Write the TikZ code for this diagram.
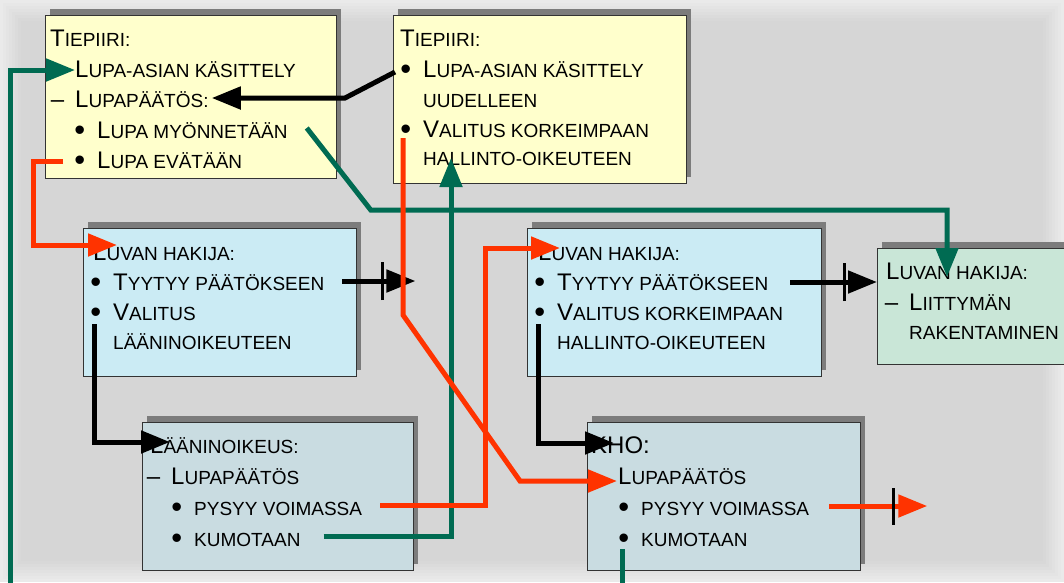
\documentclass[tikz,border=0pt]{standalone}
\usepackage{fontspec}
\setmainfont{Liberation Sans}
\usetikzlibrary{arrows.meta,shadows}
\definecolor{tausta}{HTML}{D6D6D6}
\definecolor{reuna}{HTML}{EAEAEA}
\definecolor{keltainen}{HTML}{FFFFCC}
\definecolor{sininen}{HTML}{CBEBF4}
\definecolor{minttu}{HTML}{C9E6D7}
\definecolor{harmaa}{HTML}{C9DCE1}
\definecolor{varjo}{HTML}{7C7C7C}
\definecolor{vihrea}{HTML}{006B52}
\definecolor{punainen}{HTML}{FF3300}
\newcommand\pien[1]{{\fontsize{19}{22}\selectfont #1}}
\newcommand\pallo{\llap{\raisebox{-2pt}{\fontsize{31}{31}\selectfont\textbullet}\hspace{12pt}}}
\newcommand\viiva{\llap{\textendash\hspace{11pt}}}
\begin{document}
\begin{tikzpicture}[x=1pt,y=-1pt]
\tikzset{laatikko/.style={draw=black!80,line width=0.8pt,
                          anchor=north west,inner sep=0pt,
                          general shadow={fill=varjo,shadow xshift=5pt,shadow yshift=6pt}},
         rivi/.style={anchor=base west,inner sep=0pt,
                      font=\fontsize{24}{28}\selectfont},
         yhteys/.style={line width=5pt,-{Triangle[length=29pt,width=22pt]}},
         katko/.style={pos=#1,inner sep=0pt,text=black}
}
\useasboundingbox (0,0) rectangle (1064,582);
\fill[tausta] (0,0) rectangle (1064,582);
\foreach \i in {0,...,6}
  {\pgfmathtruncatemacro\p{100-15*\i}
   \draw[line width=3pt,reuna!\p!tausta] ({1.5+3*\i},{1.5+3*\i}) rectangle ({1062.5-3*\i},{580.5-3*\i});}

\node[laatikko,fill=keltainen,minimum width=291pt,minimum height=163pt] (A) at (45,15) {};
\node[laatikko,fill=keltainen,minimum width=293pt,minimum height=168pt] (B) at (393,15) {};
\node[laatikko,fill=sininen,minimum width=273pt,minimum height=148pt] (C) at (83,228) {};
\node[laatikko,fill=sininen,minimum width=294pt,minimum height=148pt] (D) at (527,228) {};
\node[laatikko,fill=minttu,minimum width=220pt,minimum height=116pt] (E) at (877,248) {};
\node[laatikko,fill=harmaa,minimum width=271pt,minimum height=148pt] (F) at (142,422) {};
\node[laatikko,fill=harmaa,minimum width=273pt,minimum height=148pt] (G) at (587,422) {};

\node[rivi] (a0) at (50,46)  {T\pien{IEPIIRI:}};
\node[rivi] (a1) at (75,77)  {L\pien{UPA-ASIAN KÄSITTELY}};
\node[rivi] (a2) at (75,107) {\viiva L\pien{UPAPÄÄTÖS:}};
\node[rivi] (a3) at (97,138) {\pallo L\pien{UPA MYÖNNETÄÄN}};
\node[rivi] (a4) at (97,168) {\pallo L\pien{UPA EVÄTÄÄN}};

\node[rivi] (b0) at (400,46)  {T\pien{IEPIIRI:}};
\node[rivi] (b1) at (423,77)  {\pallo L\pien{UPA-ASIAN KÄSITTELY}};
\node[rivi] (b2) at (423,107) {\pien{UUDELLEEN}};
\node[rivi] (b3) at (423,137) {\pallo V\pien{ALITUS KORKEIMPAAN}};
\node[rivi] (b4) at (423,165) {\pien{HALLINTO-OIKEUTEEN}};

\node[rivi] (c0) at (93,260)  {L\pien{UVAN HAKIJA:}};
\node[rivi] (c1) at (113,290) {\pallo T\pien{YYTYY PÄÄTÖKSEEN}};
\node[rivi] (c2) at (113,320) {\pallo V\pien{ALITUS}};
\node[rivi] (c3) at (113,349) {\pien{LÄÄNINOIKEUTEEN}};

\node[rivi] (d0) at (538,260) {L\pien{UVAN HAKIJA:}};
\node[rivi] (d1) at (557,290) {\pallo T\pien{YYTYY PÄÄTÖKSEEN}};
\node[rivi] (d2) at (557,320) {\pallo V\pien{ALITUS KORKEIMPAAN}};
\node[rivi] (d3) at (557,349) {\pien{HALLINTO-OIKEUTEEN}};

\node[rivi] (e0) at (886,279) {L\pien{UVAN HAKIJA:}};
\node[rivi] (e1) at (909,310) {\viiva L\pien{IITTYMÄN}};
\node[rivi] (e2) at (909,339) {\pien{RAKENTAMINEN}};

\node[rivi] (f0) at (150,453) {L\pien{ÄÄNINOIKEUS:}};
\node[rivi] (f1) at (171,484) {\viiva L\pien{UPAPÄÄTÖS}};
\node[rivi] (f2) at (194,515) {\pallo\pien{PYSYY VOIMASSA}};
\node[rivi] (f3) at (194,546) {\pallo\pien{KUMOTAAN}};

\node[rivi] (g0) at (591,453) {KHO:};
\node[rivi] (g1) at (618,484) {L\pien{UPAPÄÄTÖS}};
\node[rivi] (g2) at (641,515) {\pallo\pien{PYSYY VOIMASSA}};
\node[rivi] (g3) at (641,546) {\pallo\pien{KUMOTAAN}};

\coordinate (vasen) at (10,590);
\draw[yhteys,vihrea] (vasen) |- ([yshift=7pt]a1.base west);
\coordinate (a3a) at ([shift={(19pt,10pt)}]a3.base east);
\draw[yhteys,vihrea] (a3a) -- ++(64,82) -| ([shift={(61pt,2pt)}]e0.base west);
\coordinate (f3a) at ([shift={(23pt,10pt)}]f3.base east);
\draw[yhteys,vihrea] (f3a) -| ([shift={(28pt,7pt)}]b4.base west);
\coordinate (g3a) at ([shift={(-19pt,-3pt)}]g3.base west);
\draw[yhteys,-,vihrea] (g3a) -- ++(0,40);

\coordinate (b1a) at ([shift={(-28pt,5pt)}]b1.base west);
\draw[yhteys] (b1a) -- ++(-50,26) -- ([shift={(3pt,9pt)}]a2.base east);
\coordinate (c1a) at ([shift={(18pt,9pt)}]c1.base east);
\draw[yhteys] (c1a) -- ++(73,0) node[katko=.55]{\rule{3pt}{38pt}};
\coordinate (d1a) at ([shift={(22pt,8pt)}]d1.base east);
\draw[yhteys] (d1a) -- (d1a -| E.west) node[katko=.63]{\rule{3pt}{38pt}};
\coordinate (c2a) at ([shift={(-19pt,-4pt)}]c2.base west);
\draw[yhteys] (c2a) |- ([shift={(20pt,11pt)}]f0.base west);
\coordinate (d2a) at ([shift={(-19pt,-4pt)}]d2.base west);
\draw[yhteys] (d2a) |- ([shift={(23pt,10pt)}]g0.base west);

\coordinate (a4a) at ([shift={(-34pt,7pt)}]a4.base west);
\draw[yhteys,punainen] (a4a) -- ++(-30,0) |- ([shift={(24pt,15pt)}]c0.base west);
\coordinate (b3a) at ([shift={(-20pt,-1pt)}]b3.base west);
\draw[yhteys,punainen] (b3a) -- ++(0,177) -- ([shift={(-98pt,3pt)}]g1.base west) -- ([shift={(-1pt,3pt)}]g1.base west);
\coordinate (f2a) at ([shift={(18pt,10pt)}]f2.base east);
\draw[yhteys,punainen] (f2a) -- ++(105,0) |- ([shift={(22pt,12pt)}]d0.base west);
\coordinate (g2a) at ([shift={(20pt,9pt)}]g2.base east);
\draw[yhteys,punainen] (g2a) -- ++(98,0) node[katko=.66]{\rule{3pt}{37pt}};
\end{tikzpicture}
\end{document}
